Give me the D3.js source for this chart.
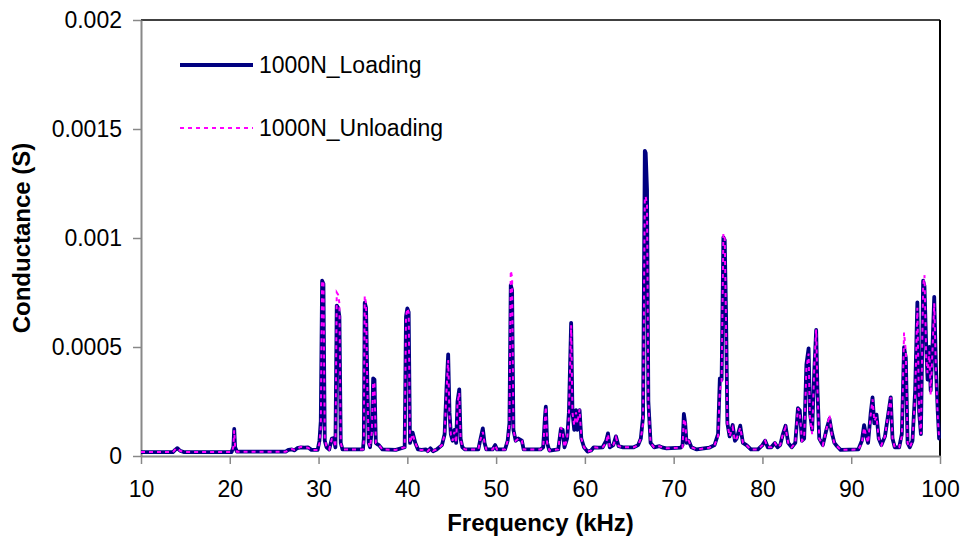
<!DOCTYPE html>
<html lang="en">
<head>
<meta charset="UTF-8">
<script src="https://d3js.org/d3.v7.min.js"></script>
<style>
  body { margin: 0; background: #fff; }
  text { font-family: "Liberation Sans", Arial, sans-serif; }
</style>
</head>
<body>
<div id="chart"></div>
<script>
// frequency in kHz
const freqKHz = [
  10.0, 13.6, 13.9, 14.1, 14.4, 14.8, 20.2, 20.4, 20.5, 20.6, 20.8,
  26.3, 26.6, 27.0, 27.3, 27.6, 28.0, 28.4, 28.8, 29.2, 29.9,
  30.1, 30.25, 30.4, 30.55, 30.7, 30.9, 31.2, 31.5, 31.7, 31.9,
  32.05, 32.2, 32.35, 32.5, 32.7, 35.0, 35.1, 35.2, 35.35, 35.5, 35.65, 35.8,
  36.0, 36.15, 36.3, 36.45, 36.6, 36.8, 37.2, 38.7, 39.7, 39.85, 40.0, 40.15, 40.3,
  40.6, 40.9, 41.2, 41.6, 42.1, 42.3, 42.6, 42.9, 43.3, 43.9, 44.2, 44.4, 44.6, 44.75,
  44.9, 45.1, 45.3, 45.5, 45.65, 45.85, 46.0, 46.2, 46.5, 48.0, 48.2, 48.5, 48.7, 48.9,
  49.6, 49.9, 50.1, 51.0, 51.3, 51.5, 51.65, 51.8, 51.95, 52.2, 52.5, 52.9, 53.1,
  55.0, 55.3, 55.5, 55.6, 55.75, 56.0, 57.0, 57.3, 57.5, 57.7, 58.0, 58.2, 58.45, 58.6,
  58.8, 59.0, 59.15, 59.4, 59.6, 59.9, 60.3, 60.7, 61.0, 61.5, 62.0, 62.4, 62.6, 62.8,
  63.2, 63.5, 63.8, 64.3, 65.5, 66.0, 66.3, 66.55, 66.75, 66.85, 67.0, 67.15, 67.4, 67.8,
  68.4, 68.8, 69.2, 70.8, 71.0, 71.15, 71.3, 71.45, 71.7, 72.0, 72.6, 74.0, 74.6, 75.0,
  75.2, 75.4, 75.6, 75.75, 75.9, 76.05, 76.3, 76.65, 76.9, 77.1, 77.5, 77.8, 78.2, 78.7,
  79.5, 80.0, 80.3, 80.6, 81.0, 81.4, 81.7, 82.0, 82.3, 82.6, 82.9, 83.3, 83.7, 84.0,
  84.2, 84.45, 84.7, 84.95, 85.2, 85.35, 85.6, 85.85, 86.05, 86.2, 86.4, 86.8, 87.2, 87.55,
  87.8, 88.1, 88.4, 88.8, 90.8, 91.2, 91.45, 91.7, 91.9, 92.2, 92.4, 92.6, 92.85, 93.1,
  93.4, 93.8, 94.2, 94.45, 94.65, 94.9, 95.4, 95.7, 95.95, 96.15, 96.35, 96.6, 96.9, 97.2,
  97.45, 97.65, 97.85, 98.1, 98.25, 98.45, 98.6, 98.8, 98.95, 99.15, 99.35, 99.55, 99.75,
  99.9, 100.0
];

// conductance in microsiemens
const loadingUS = [
  18, 18, 30, 36, 24, 18, 18, 40, 124, 40, 20,
  20, 28, 30, 26, 36, 40, 38, 40, 28, 28,
  70, 160, 804, 790, 70, 40, 30, 80, 82, 40,
  690, 680, 640, 60, 30, 30, 80, 703, 680, 330, 60, 40,
  120, 356, 350, 60, 55, 50, 30, 28, 40, 640, 677, 660, 60,
  107, 60, 30, 28, 30, 22, 35, 22, 30, 50, 100, 300, 466, 200,
  100, 70, 120, 60, 250, 306, 80, 40, 30, 30, 70, 127, 60, 30,
  30, 50, 30, 30, 70, 150, 784, 760, 120, 70, 80, 70, 30,
  30, 40, 180, 226, 60, 25, 30, 125, 120, 40, 80, 200, 611, 200,
  120, 210, 120, 210, 80, 40, 20, 25, 40, 38, 40, 70, 104, 40,
  50, 90, 45, 40, 40, 50, 80, 180, 1400, 1390, 1220, 250, 60, 40,
  45, 38, 35, 38, 50, 193, 150, 60, 70, 40, 30, 38, 50, 100,
  356, 350, 1003, 990, 650, 150, 90, 142, 70, 80, 139, 60, 50, 30,
  30, 50, 70, 40, 40, 60, 40, 50, 100, 139, 60, 40, 60, 219,
  210, 70, 80, 420, 494, 200, 120, 400, 578, 300, 80, 50, 120, 170,
  110, 60, 45, 28, 30, 70, 142, 90, 60, 200, 269, 150, 190, 80,
  50, 90, 200, 269, 80, 40, 40, 100, 499, 450, 60, 40, 70, 300,
  705, 200, 100, 804, 780, 500, 350, 500, 300, 500, 730, 400, 200,
  80, 80
];

const unloadingUS = [
  18, 18, 32, 36, 24, 18, 18, 40, 118, 40, 20,
  20, 26, 32, 28, 34, 42, 40, 38, 28, 28,
  60, 130, 804, 800, 80, 40, 30, 78, 80, 40,
  750, 740, 700, 60, 30, 30, 70, 735, 700, 300, 60, 40,
  110, 340, 330, 60, 55, 50, 30, 28, 40, 640, 677, 660, 60,
  100, 60, 30, 28, 30, 22, 35, 24, 30, 50, 100, 290, 440, 180,
  100, 70, 110, 60, 240, 290, 80, 40, 30, 30, 70, 110, 60, 30,
  30, 50, 30, 30, 70, 140, 850, 820, 120, 70, 80, 70, 30,
  30, 40, 170, 226, 60, 25, 30, 131, 110, 40, 80, 180, 600, 200,
  140, 200, 150, 215, 80, 40, 20, 25, 40, 38, 40, 60, 100, 40,
  50, 85, 45, 40, 40, 50, 80, 150, 1190, 1190, 1150, 250, 60, 40,
  45, 38, 35, 38, 40, 170, 160, 60, 70, 40, 30, 38, 50, 90,
  300, 340, 1020, 1000, 600, 150, 90, 130, 70, 80, 130, 60, 50, 30,
  30, 50, 70, 40, 40, 60, 40, 50, 100, 130, 60, 40, 60, 219,
  200, 70, 80, 400, 470, 180, 100, 420, 580, 300, 80, 50, 120, 188,
  100, 60, 45, 28, 30, 60, 130, 90, 60, 190, 260, 160, 180, 80,
  50, 90, 200, 269, 80, 40, 40, 90, 566, 480, 60, 40, 70, 280,
  680, 200, 100, 780, 830, 450, 380, 480, 280, 480, 700, 380, 180,
  80, 80
];

const seriesNames = ["1000N_Loading", "1000N_Unloading"];
const xTicks = [10, 20, 30, 40, 50, 60, 70, 80, 90, 100];
const yTicks = [0, 0.0005, 0.001, 0.0015, 0.002];

const W = 965, H = 544;
const mLeft = 141, mRight = 940, mTop = 20, mBottom = 456;

const svg = d3.select("#chart")
  .append("svg")
  .attr("width", W)
  .attr("height", H);

const x = d3.scaleLinear().domain([10, 100]).range([mLeft, mRight]);
const y = d3.scaleLinear().domain([0, 0.002]).range([mBottom, mTop]);

// frame: black top and right, grey axes
svg.append("line")
  .attr("x1", mLeft).attr("x2", mRight).attr("y1", mTop).attr("y2", mTop)
  .attr("stroke", "#000").attr("stroke-width", 1.5);
svg.append("line")
  .attr("x1", mRight).attr("x2", mRight).attr("y1", mTop).attr("y2", mBottom)
  .attr("stroke", "#000").attr("stroke-width", 2);

const xAxis = svg.append("g")
  .attr("transform", `translate(0,${mBottom})`)
  .call(d3.axisBottom(x).tickValues(xTicks).tickSize(8).tickPadding(17).tickSizeOuter(0));

const yAxis = svg.append("g")
  .attr("transform", `translate(${mLeft},0)`)
  .call(d3.axisLeft(y).tickValues(yTicks).tickSize(8).tickPadding(11).tickSizeOuter(0)
    .tickFormat(d => d === 0 ? "0" : String(+d.toFixed(4))));

[xAxis, yAxis].forEach(g => {
  g.select(".domain").attr("stroke", "#888").attr("stroke-width", 2);
  g.selectAll(".tick line").attr("stroke", "#888").attr("stroke-width", 1.5);
  g.selectAll(".tick text")
    .attr("fill", "#000")
    .style("font-size", "23px")
    .style("font-family", "'Liberation Sans', Arial, sans-serif");
});

const pts = (vals) => freqKHz.map((f, i) => [f, vals[i] * 1e-6]);
const line = d3.line().x(d => x(d[0])).y(d => y(d[1]));

svg.append("path")
  .datum(pts(loadingUS))
  .attr("fill", "none")
  .attr("stroke", "#000080")
  .attr("stroke-width", 3.8)
  .attr("stroke-linejoin", "round")
  .attr("d", line);

svg.append("path")
  .datum(pts(unloadingUS))
  .attr("fill", "none")
  .attr("stroke", "#ff00ff")
  .attr("stroke-width", 2)
  .attr("stroke-dasharray", "4,4")
  .attr("d", line);

// legend
const legend = svg.append("g");
legend.append("line")
  .attr("x1", 180).attr("x2", 253).attr("y1", 65).attr("y2", 65)
  .attr("stroke", "#000080").attr("stroke-width", 3.8);
legend.append("text")
  .attr("x", 259).attr("y", 73)
  .style("font-size", "23px")
  .text(seriesNames[0]);
legend.append("line")
  .attr("x1", 180).attr("x2", 253).attr("y1", 128).attr("y2", 128)
  .attr("stroke", "#ff00ff").attr("stroke-width", 2).attr("stroke-dasharray", "4,4");
legend.append("text")
  .attr("x", 259).attr("y", 136)
  .style("font-size", "23px")
  .text(seriesNames[1]);

// axis titles
svg.append("text")
  .attr("x", (mLeft + mRight) / 2).attr("y", 531)
  .attr("text-anchor", "middle")
  .style("font-size", "24px").style("font-weight", "bold")
  .text("Frequency (kHz)");

svg.append("text")
  .attr("transform", `translate(30,${(mTop + mBottom) / 2}) rotate(-90)`)
  .attr("text-anchor", "middle")
  .style("font-size", "24px").style("font-weight", "bold")
  .text("Conductance (S)");
</script>
</body>
</html>
